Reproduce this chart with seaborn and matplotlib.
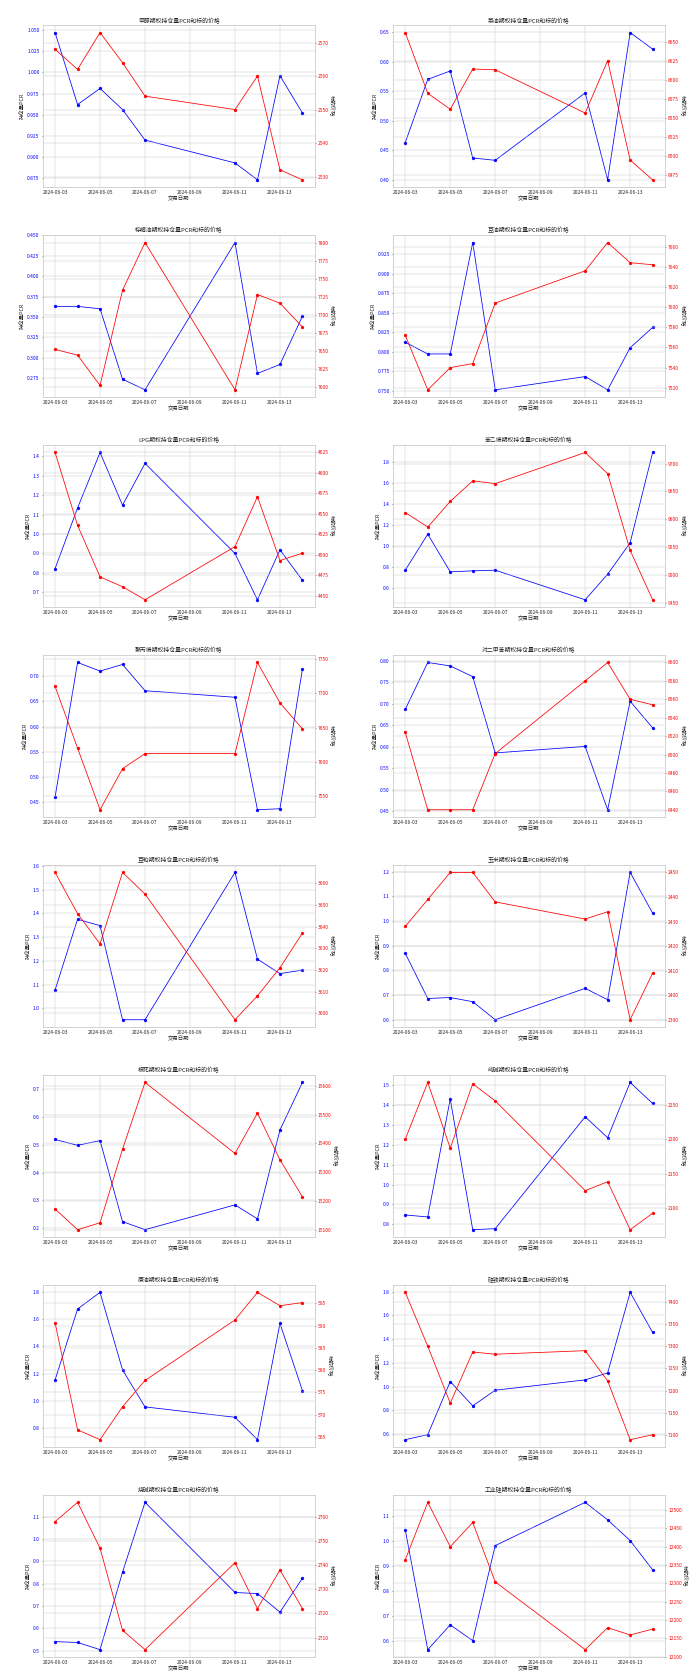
import numpy as np
import pandas as pd
import matplotlib
matplotlib.use("Agg")
import matplotlib.pyplot as plt
import matplotlib.dates as mdates
import seaborn as sns

dates = ["2024-06-03", "2024-06-04", "2024-06-05", "2024-06-06", "2024-06-07",
         "2024-06-11", "2024-06-12", "2024-06-13", "2024-06-14"]

products = ["甲醇", "菜油", "棕榈油", "豆油", "LPG", "苯乙烯", "聚丙烯", "对二甲苯",
            "豆粕", "玉米", "棉花", "纯碱", "原油", "硅铁", "烧碱", "工业硅"]

pcr_甲醇 = [1.047, 0.962, 0.981, 0.956, 0.920, 0.893, 0.873, 0.996, 0.952]
price_甲醇 = [2568, 2562, 2573, 2564, 2554, 2550, 2560, 2532, 2529]

pcr_菜油 = [0.463, 0.570, 0.584, 0.437, 0.433, 0.547, 0.400, 0.649, 0.621]
price_菜油 = [8662, 8582, 8561, 8614, 8613, 8556, 8625, 8494, 8468]

pcr_棕榈油 = [0.363, 0.363, 0.360, 0.274, 0.261, 0.441, 0.281, 0.292, 0.351]
price_棕榈油 = [7652, 7644, 7602, 7734, 7800, 7596, 7728, 7716, 7683]

pcr_豆油 = [0.812, 0.797, 0.797, 0.940, 0.751, 0.768, 0.751, 0.805, 0.831]
price_豆油 = [7572, 7518, 7540, 7544, 7604, 7636, 7664, 7644, 7642]

pcr_LPG = [0.822, 1.134, 1.419, 1.148, 1.363, 0.900, 0.662, 0.919, 0.762]
price_LPG = [4625, 4536, 4473, 4461, 4445, 4510, 4571, 4493, 4502]

pcr_苯乙烯 = [0.768, 1.111, 0.752, 0.762, 0.768, 0.486, 0.730, 1.029, 1.889]
price_苯乙烯 = [9612, 9586, 9632, 9669, 9664, 9720, 9682, 9544, 9455]

pcr_聚丙烯 = [0.460, 0.727, 0.710, 0.723, 0.671, 0.658, 0.435, 0.437, 0.714]
price_聚丙烯 = [7710, 7620, 7530, 7590, 7612, 7612, 7745, 7686, 7648]

pcr_对二甲苯 = [0.687, 0.796, 0.788, 0.763, 0.586, 0.601, 0.454, 0.706, 0.644]
price_对二甲苯 = [8524, 8440, 8440, 8440, 8501, 8580, 8600, 8560, 8554]

pcr_豆粕 = [1.077, 1.375, 1.348, 0.952, 0.952, 1.572, 1.207, 1.146, 1.161]
price_豆粕 = [3665, 3646, 3632, 3665, 3655, 3597, 3608, 3621, 3637]

pcr_玉米 = [0.869, 0.686, 0.690, 0.673, 0.600, 0.727, 0.681, 1.197, 1.032]
price_玉米 = [2428, 2439, 2450, 2450, 2438, 2431, 2434, 2390, 2409]

pcr_棉花 = [0.519, 0.498, 0.515, 0.224, 0.195, 0.284, 0.234, 0.553, 0.724]
price_棉花 = [15172, 15100, 15124, 15380, 15612, 15365, 15505, 15343, 15214]

pcr_纯碱 = [0.847, 0.837, 1.430, 0.773, 0.778, 1.340, 1.235, 1.513, 1.407]
price_纯碱 = [2200, 2283, 2187, 2281, 2256, 2125, 2138, 2068, 2092]

pcr_原油 = [1.153, 1.673, 1.795, 1.227, 0.956, 0.880, 0.716, 1.568, 1.075]
price_原油 = [590.7, 566.6, 564.4, 571.8, 577.7, 591.3, 597.5, 594.5, 595.2]

pcr_硅铁 = [0.552, 0.594, 1.042, 0.837, 0.969, 1.056, 1.115, 1.794, 1.456]
price_硅铁 = [7421, 7300, 7172, 7287, 7282, 7290, 7222, 7090, 7101]

pcr_烧碱 = [0.540, 0.536, 0.504, 0.851, 1.164, 0.760, 0.755, 0.672, 0.824]
price_烧碱 = [2758, 2766, 2747, 2713, 2705, 2741, 2722, 2738, 2722]

pcr_工业硅 = [1.043, 0.564, 0.663, 0.600, 0.980, 1.153, 1.083, 1.000, 0.883]
price_工业硅 = [12364, 12521, 12400, 12466, 12304, 12119, 12179, 12159, 12175]

series = [(pcr_甲醇, price_甲醇), (pcr_菜油, price_菜油), (pcr_棕榈油, price_棕榈油),
          (pcr_豆油, price_豆油), (pcr_LPG, price_LPG), (pcr_苯乙烯, price_苯乙烯),
          (pcr_聚丙烯, price_聚丙烯), (pcr_对二甲苯, price_对二甲苯), (pcr_豆粕, price_豆粕),
          (pcr_玉米, price_玉米), (pcr_棉花, price_棉花), (pcr_纯碱, price_纯碱),
          (pcr_原油, price_原油), (pcr_硅铁, price_硅铁), (pcr_烧碱, price_烧碱),
          (pcr_工业硅, price_工业硅)]

sns.set_theme(style="whitegrid")
plt.rcParams['font.family'] = ['Noto Sans CJK SC', 'DejaVu Sans']
plt.rcParams['axes.unicode_minus'] = False

fig, axes = plt.subplots(8, 2, figsize=(20, 48), dpi=35)
fig.subplots_adjust(left=0.061, right=0.95, top=0.985, bottom=0.0137,
                    wspace=0.287, hspace=0.296)

x = pd.to_datetime(dates)
for ax, name, (pcr, price) in zip(axes.flat, products, series):
    sns.lineplot(x=x, y=pcr, ax=ax, color="blue", marker="o",
                 markersize=6, linewidth=1.6, markeredgecolor="blue")
    ax2 = ax.twinx()
    sns.lineplot(x=x, y=price, ax=ax2, color="red", marker="o",
                 markersize=6, linewidth=1.6, markeredgecolor="red")
    ax.set_title(f"{name}期权持仓量PCR和标的价格", fontsize=12, pad=5)
    ax.set_xlabel("交易日期", fontsize=11, labelpad=1)
    ax.set_ylabel("持仓量PCR", fontsize=11)
    ax2.set_ylabel("标的价格", fontsize=11, rotation=270, labelpad=12)
    ax.tick_params(axis="y", labelcolor="blue", labelsize=10, length=3)
    ax2.tick_params(axis="y", labelcolor="red", labelsize=10, length=3)
    ax.tick_params(axis="x", labelsize=10, length=3)
    ax.xaxis.set_major_locator(mdates.DayLocator(bymonthday=range(1, 32, 2)))
    ax.xaxis.set_major_formatter(mdates.DateFormatter("%Y-%m-%d"))
    for sp in list(ax.spines.values()) + list(ax2.spines.values()):
        sp.set_color("#cccccc")

fig.savefig("out.png", dpi=35)
